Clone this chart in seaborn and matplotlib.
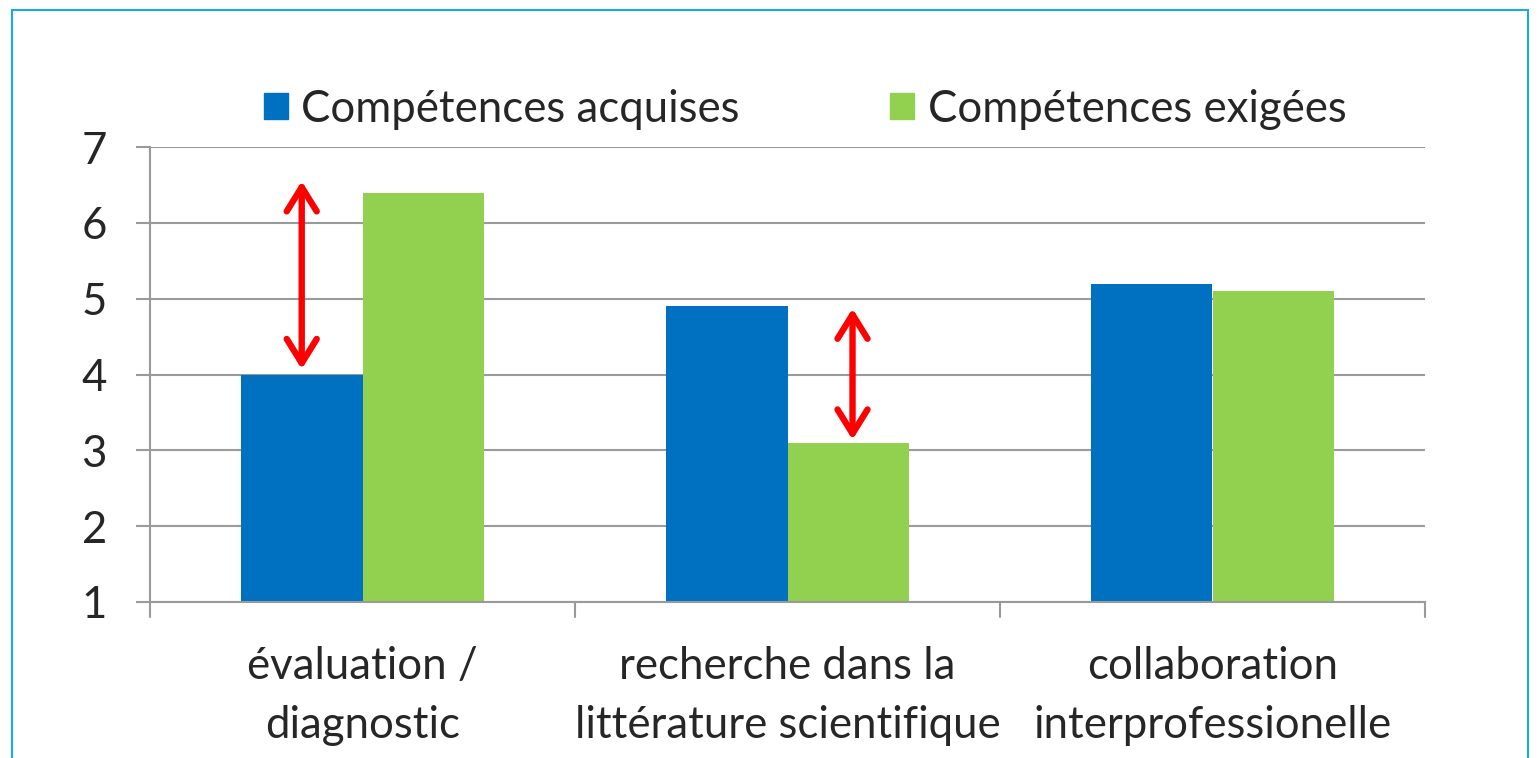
import matplotlib
matplotlib.use("Agg")
import matplotlib.pyplot as plt
import matplotlib.patches as mpatches
import seaborn as sns
import pandas as pd

categories = ["évaluation /\ndiagnostic", "recherche dans la\nlittérature scientifique", "collaboration\ninterprofessionelle"]
series_names = ["Compétences acquises", "Compétences exigées"]
acquises = [4.0, 4.9, 5.2]
exigees = [6.4, 3.1, 5.1]
y_ticks = [1, 2, 3, 4, 5, 6, 7]
# red gap arrows: (category index, series index, from value, to value)
arrow_cat = [0, 1]
arrow_series = [0, 1]
arrow_low = [4.07, 3.14]
arrow_high = [6.55, 4.87]

colors = ["#0070C0", "#92D050"]

df = pd.DataFrame({
    "cat": categories * 2,
    "serie": [series_names[0]] * 3 + [series_names[1]] * 3,
    "val": acquises + exigees,
})

sns.set_theme(style="white")
plt.rcParams["font.family"] = ["Lato", "DejaVu Sans"]

FS = 31.5

fig = plt.figure(figsize=(15.39, 7.58), dpi=100)
ax = fig.add_axes([150 / 1539, 1 - 602 / 758, 1275 / 1539, 455 / 758])

width = 0.572
sns.barplot(data=df, x="cat", y="val", hue="serie", palette=colors, width=width,
            dodge=True, saturation=1, ax=ax, legend=False, linewidth=0)

ax.set_ylim(1, 7)
ax.set_xlim(-0.5, 2.5)
ax.set_yticks(y_ticks)
ax.set_yticklabels([str(t) for t in y_ticks], fontsize=FS)
ax.yaxis.grid(True, color="#9A9A9A", linewidth=1.5)
ax.set_axisbelow(True)
ax.set_xticks([0, 1, 2])
ax.set_xticklabels(categories, fontsize=FS, linespacing=1.52)
ax.set_xlabel("")
ax.set_ylabel("")
for s in ["top", "right"]:
    ax.spines[s].set_visible(False)
for s in ["left", "bottom"]:
    ax.spines[s].set_color("#9A9A9A")
    ax.spines[s].set_linewidth(1.5)
ax.tick_params(axis="y", left=True, length=10, width=1.5, color="#9A9A9A", pad=21)
ax.tick_params(axis="x", bottom=False, pad=26)
# boundary ticks between categories
for b in [-0.5, 0.5, 1.5, 2.5]:
    ax.plot([b, b], [1, 0.8], color="#9A9A9A", lw=1.5, clip_on=False)

bw = width / 2
for c, s, lo, hi in zip(arrow_cat, arrow_series, arrow_low, arrow_high):
    x = c + (-bw / 2 if s == 0 else bw / 2 + 0.01)
    ax.annotate("", xy=(x, hi), xytext=(x, lo),
                arrowprops=dict(arrowstyle="<->,head_length=1.45,head_width=0.9",
                                color="#FF0000", lw=4.6, shrinkA=0, shrinkB=0,
                                capstyle="round", joinstyle="round"))

handles = [mpatches.Patch(color=colors[i], label=series_names[i]) for i in range(2)]
ax.legend(handles=handles, loc="center", bbox_to_anchor=((805 - 150) / 1275, 1 + 38 / 455),
          ncol=2, frameon=False, fontsize=FS, handlelength=0.55, handleheight=0.55,
          handletextpad=0.3, columnspacing=3.45)

fig.patches.append(mpatches.Rectangle((12 / 1539, -0.05), 1516 / 1539, 1 - 10 / 758 + 0.05,
                                      transform=fig.transFigure, fill=False,
                                      edgecolor="#1EA7E0", lw=1.5))

fig.savefig("out.png", dpi=100)
